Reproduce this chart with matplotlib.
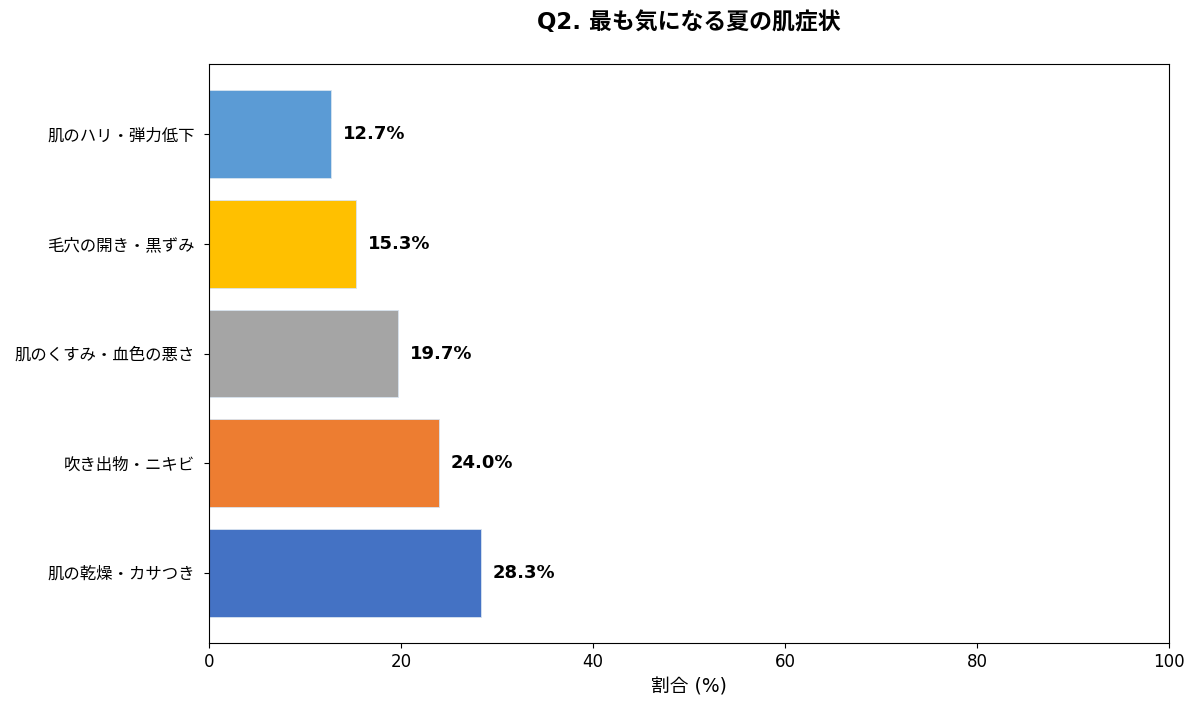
import matplotlib
matplotlib.use("Agg")
import matplotlib.pyplot as plt

plt.rcParams['font.family'] = ['DejaVu Sans', 'Noto Sans CJK JP']

categories = ['肌の乾燥・カサつき', '吹き出物・ニキビ', '肌のくすみ・血色の悪さ',
              '毛穴の開き・黒ずみ', '肌のハリ・弾力低下']
values = [28.3, 24.0, 19.7, 15.3, 12.7]
colors = ['#4472C4', '#ED7D31', '#A5A5A5', '#FFC000', '#5B9BD5']


def main():
    fig = plt.figure(figsize=(11.98, 7.11), dpi=100)
    ax = fig.add_axes([0.1745, 0.0956, 0.8013, 0.8144])

    bars = ax.barh(categories, values, color=colors, height=0.8,
                   edgecolor='#d8e4f0', linewidth=0.6)
    for rect, v in zip(bars, values):
        ax.text(v + 1.2, rect.get_y() + rect.get_height() / 2, f'{v:.1f}%',
                va='center', ha='left', fontsize=13, fontweight='bold')

    ax.set_xlim(0, 100)
    ax.set_xlabel('割合 (%)', fontsize=13.5, labelpad=5)
    ax.tick_params(axis='x', labelsize=12)
    ax.tick_params(axis='y', labelsize=11.8, pad=7)
    ax.set_title('Q2. 最も気になる夏の肌症状', fontsize=16.5, fontweight='bold', pad=25)

    fig.savefig('out.png', dpi=100)


if __name__ == '__main__': main()
